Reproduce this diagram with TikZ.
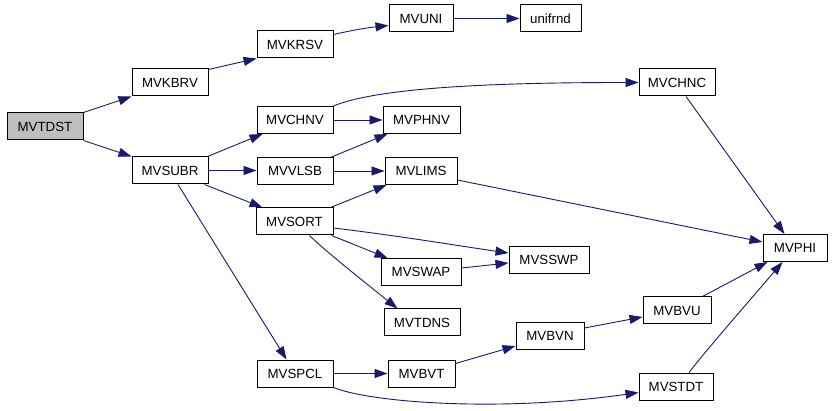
\documentclass[tikz,border=0pt]{standalone}
\usepackage{fontspec}
\setmainfont{Liberation Sans}
\usetikzlibrary{arrows.meta,calc}
\definecolor{edgeblue}{HTML}{191970}
\definecolor{rootgrey}{HTML}{BFBFBF}
\begin{document}
\begin{tikzpicture}[x=1pt,y=-1pt,
  box/.style={draw=black,line width=1pt,rectangle,minimum height=27pt,inner sep=0pt,
    font=\fontsize{13.3}{16}\selectfont,fill=white},
  edge/.style={draw=edgeblue,line width=0.9pt,-{Triangle[length=13pt,width=9pt]}}]
\useasboundingbox[fill=white] (0,0) rectangle (832,411);
% nodes
\node[box,fill=rootgrey,minimum width=76pt] (MVTDST) at (45,126.5) {MVTDST};
\node[box,minimum width=76pt] (MVKBRV) at (170,82.5) {MVKBRV};
\node[box,minimum width=76pt] (MVSUBR) at (170,170.5) {MVSUBR};
\node[box,minimum width=76pt] (MVKRSV) at (295,44.5) {MVKRSV};
\node[box,minimum width=64pt] (MVUNI) at (421,18.5) {MVUNI};
\node[box,minimum width=61pt] (unifrnd) at (550.5,18.5) {unifrnd};
\node[box,minimum width=76pt] (MVCHNC) at (677,82.5) {MVCHNC};
\node[box,minimum width=76pt] (MVCHNV) at (295,120) {MVCHNV};
\node[box,minimum width=77pt] (MVPHNV) at (421.5,120) {MVPHNV};
\node[box,minimum width=76pt] (MVVLSB) at (295,171) {MVVLSB};
\node[box,minimum width=72pt] (MVLIMS) at (421,171) {MVLIMS};
\node[box,minimum width=77pt] (MVSORT) at (294.5,221.5) {MVSORT};
\node[box,minimum width=80pt] (MVSWAP) at (421,272) {MVSWAP};
\node[box,minimum width=76pt] (MVTDNS) at (422,322.5) {MVTDNS};
\node[box,minimum width=76pt] (MVSPCL) at (295,373.5) {MVSPCL};
\node[box,minimum width=67pt] (MVBVT) at (421.5,373.5) {MVBVT};
\node[box,minimum width=80pt] (MVSSWP) at (549,260) {MVSSWP};
\node[box,minimum width=68pt] (MVBVN) at (550,336) {MVBVN};
\node[box,minimum width=68pt] (MVBVU) at (677,310.5) {MVBVU};
\node[box,minimum width=74pt] (MVSTDT) at (676,386.5) {MVSTDT};
\node[box,minimum width=64pt] (MVPHI) at (795,248) {MVPHI};
% edges
\draw[edge] (MVTDST.north east) -- (MVKBRV.south west);
\draw[edge] (MVTDST.south east) -- (MVSUBR.north west);
\draw[edge] ($(MVKBRV.north east)+(0,1)$) -- (MVKRSV.south west);
\draw[edge] ($(MVKRSV.north east)+(0,4)$) .. controls +(22,-5) and +(-19,2) .. ($(MVUNI.south west)+(0,-7)$);
\draw[edge] (MVUNI.east) -- (unifrnd.west);
\draw[edge] ($(MVSUBR.north east)+(-1,0)$) -- ($(MVCHNV.south west)+(6,0)$);
\draw[edge] (MVSUBR.east) -- (MVSUBR.east -| MVVLSB.west);
\draw[edge] ($(MVSUBR.south east)+(-4,0)$) -- ($(MVSORT.north west)+(7,0)$);
\draw[edge] ($(MVSUBR.south)+(8,0)$) -- ($(MVSPCL.north west)+(30,0)$);
\draw[edge] (MVCHNV.north east) .. controls +(46,-19) and +(-139,0) .. (MVCHNC.west);
\draw[edge] (MVCHNV.east) -- (MVPHNV.west);
\draw[edge] ($(MVVLSB.north east)+(-2,0)$) -- ($(MVPHNV.south west)+(5,0)$);
\draw[edge] (MVVLSB.east) -- (MVLIMS.west);
\draw[edge] ($(MVSORT.north east)+(-3,0)$) -- ($(MVLIMS.south west)+(2,0)$);
\draw[edge] ($(MVSORT.east)+(0,6.5)$) .. controls +(67,8) and +(-49,-7) .. ($(MVSSWP.west)+(0,-7)$);
\draw[edge] ($(MVSORT.south east)+(-2,0)$) -- ($(MVSWAP.north west)+(7,0)$);
\draw[edge] ($(MVSORT.south)+(15,0)$) .. controls +(15,15) and +(-25,-20) .. ($(MVTDNS.north west)+(14,0)$);
\draw[edge] ($(MVLIMS.east)+(0,9)$) -- ($(MVPHI.west)+(0,-6)$);
\draw[edge] ($(MVCHNC.south)+(9,0)$) -- ($(MVPHI.north west)+(22,0)$);
\draw[edge] ($(MVSWAP.east)+(0,-4)$) -- ($(MVSSWP.west)+(0,3)$);
\draw[edge] ($(MVBVU.north east)+(-9,0)$) -- ($(MVPHI.south west)+(5,0)$);
\draw[edge] ($(MVSTDT.north)+(13,0)$) .. controls +(16,-21) and +(-23,27) .. ($(MVPHI.south west)+(20,0)$);
\draw[edge] ($(MVBVN.east)+(0,-8)$) -- ($(MVBVU.west)+(0,6.5)$);
\draw[edge] ($(MVBVT.north east)+(0,4)$) -- ($(MVBVN.south west)+(0,-4)$);
\draw[edge] (MVSPCL.east) -- (MVBVT.west);
\draw[edge] (MVSPCL.south east) .. controls +(37,15) and +(-139,20) .. ($(MVSTDT.west)+(0,6)$);
\end{tikzpicture}
\end{document}
